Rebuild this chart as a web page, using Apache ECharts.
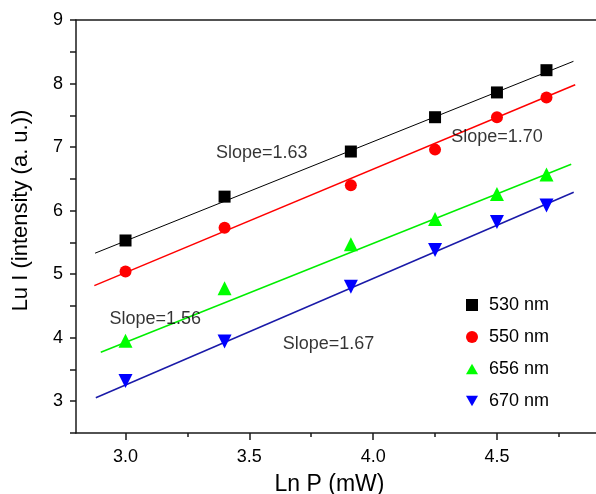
<!DOCTYPE html>
<html>
<head>
<meta charset="utf-8">
<script src="https://cdn.jsdelivr.net/npm/echarts@6/dist/echarts.min.js"></script>
<style>
  html, body { margin: 0; padding: 0; background: #fff; }
  #chart { width: 596px; height: 494px; }
</style>
</head>
<body>
<div id="chart"></div>
<script>
// measured points (Ln P, Lu I)
const lnP = [3.0, 3.4, 3.91, 4.25, 4.5, 4.7]
const lu530 = [5.53, 6.22, 6.93, 7.47, 7.86, 8.21]
const lu550 = [5.04, 5.73, 6.40, 6.96, 7.47, 7.78]
const lu656 = [3.95, 4.78, 5.47, 5.87, 6.26, 6.57]
const lu670 = [3.32, 3.94, 4.80, 5.38, 5.82, 6.08]

// linear fit end points
const fitX530 = [2.877, 4.809]
const fitY530 = [5.33, 8.35]
const fitX550 = [2.874, 4.816]
const fitY550 = [4.82, 7.98]
const fitX656 = [2.90, 4.80]
const fitY656 = [3.77, 6.73]
const fitX670 = [2.88, 4.81]
const fitY670 = [3.055, 6.29]

// slope annotations
const slopeText = ['Slope=1.63', 'Slope=1.70', 'Slope=1.56', 'Slope=1.67']
const slopeX = [3.55, 4.50, 3.12, 3.82]
const slopeY = [6.91, 7.16, 4.29, 3.90]

// axis ticks
const xMajor = [3.0, 3.5, 4.0, 4.5]
const xMinor = [3.25, 3.75, 4.25, 4.75]

const names = ['530 nm', '550 nm', '656 nm', '670 nm']

const zip = (xs, ys) => xs.map((x, i) => [x, ys[i]])

const font = 'Liberation Sans, Arial, sans-serif'
const axisColor = '#1a1a1a'

const chart = echarts.init(document.getElementById('chart'))

function fitLine(xs, ys, color, width) {
  return {
    type: 'line',
    data: zip(xs, ys),
    symbol: 'none',
    silent: true,
    lineStyle: { color: color, width: width },
    z: 2
  }
}

function points(name, ys, symbol, color, size, rotate) {
  return {
    name: name,
    type: 'scatter',
    data: zip(lnP, ys),
    symbol: symbol,
    symbolSize: size,
    symbolRotate: rotate || 0,
    itemStyle: { color: color, opacity: 1 },
    z: 3
  }
}

const option = {
  animation: false,
  backgroundColor: '#fff',
  textStyle: { fontFamily: font },
  grid: { left: 76, top: 20, right: 0, bottom: 61, containLabel: false, outerBoundsMode: 'none' },
  legend: {
    orient: 'vertical',
    left: 461,
    top: 291,
    itemWidth: 12,
    itemHeight: 12,
    itemGap: 14,
    textStyle: { fontSize: 18, color: '#000', padding: [0, 0, 0, 6], fontFamily: font },
    data: [
      { name: '530 nm', icon: 'rect' },
      { name: '550 nm', icon: 'circle' },
      { name: '656 nm', icon: 'path://M5,0L10,8.66L0,8.66Z' },
      { name: '670 nm', icon: 'path://M0,0L10,0L5,8.66Z' }
    ]
  },
  xAxis: [
    {
      type: 'value',
      min: 2.8,
      max: 4.9,
      position: 'bottom',
      name: 'Ln P (mW)',
      nameLocation: 'middle',
      nameGap: 40,
      nameTextStyle: { fontSize: 23, color: '#000', fontFamily: font, verticalAlign: 'top', padding: [0, 13, 0, 0] },
      splitLine: { show: false },
      axisLine: { show: true, lineStyle: { color: axisColor, width: 1.5 } },
      axisTick: { show: true, inside: false, length: 7, customValues: xMajor, lineStyle: { color: axisColor, width: 1.5 } },
      axisLabel: {
        customValues: xMajor,
        fontSize: 18,
        color: '#000',
        margin: 15,
        fontFamily: font,
        formatter: v => v.toFixed(1)
      }
    },
    {
      type: 'value',
      min: 2.8,
      max: 4.9,
      position: 'bottom',
      splitLine: { show: false },
      axisLine: { show: false },
      axisTick: { show: true, length: 4, customValues: xMinor, lineStyle: { color: axisColor, width: 1.5 } },
      axisLabel: { show: false }
    },
    {
      type: 'value',
      min: 2.8,
      max: 4.9,
      position: 'top',
      splitLine: { show: false },
      axisLine: { show: true, lineStyle: { color: axisColor, width: 1.5 } },
      axisTick: { show: false },
      axisLabel: { show: false }
    }
  ],
  yAxis: {
    type: 'value',
    min: 2.5,
    max: 9,
    interval: 0.5,
    name: 'Lu I (intensity (a. u.))',
    nameLocation: 'middle',
    nameGap: 44,
    nameTextStyle: { fontSize: 22, color: '#000', fontFamily: font, padding: [0, 0, 0, 32] },
    splitLine: { show: false },
    axisLine: { show: true, lineStyle: { color: axisColor, width: 1.5 } },
    axisTick: { show: true, length: 6, lineStyle: { color: axisColor, width: 1.5 } },
    axisLabel: {
      fontSize: 18,
      color: '#000',
      margin: 13,
      fontFamily: font,
      formatter: v => (v % 1 === 0 ? String(v) : '')
    }
  },
  series: [
    fitLine(fitX530, fitY530, '#000000', 1),
    fitLine(fitX550, fitY550, '#ff0000', 1.5),
    fitLine(fitX656, fitY656, '#00ee00', 1.5),
    fitLine(fitX670, fitY670, '#1a1aa8', 1.5),
    points(names[0], lu530, 'rect', '#000000', 12),
    points(names[1], lu550, 'circle', '#ff0000', 12),
    points(names[2], lu656, 'triangle', '#00ff00', 14),
    points(names[3], lu670, 'triangle', '#0000ff', 14, 180),
    {
      type: 'scatter',
      silent: true,
      data: slopeText.map((t, i) => [slopeX[i], slopeY[i], t]),
      symbolSize: 1,
      itemStyle: { color: 'rgba(0,0,0,0)' },
      label: {
        show: true,
        position: 'inside',
        formatter: p => p.value[2],
        fontSize: 18,
        color: '#000',
        fontFamily: font
      },
      z: 4
    }
  ]
}

chart.setOption(option)
</script>
</body>
</html>
